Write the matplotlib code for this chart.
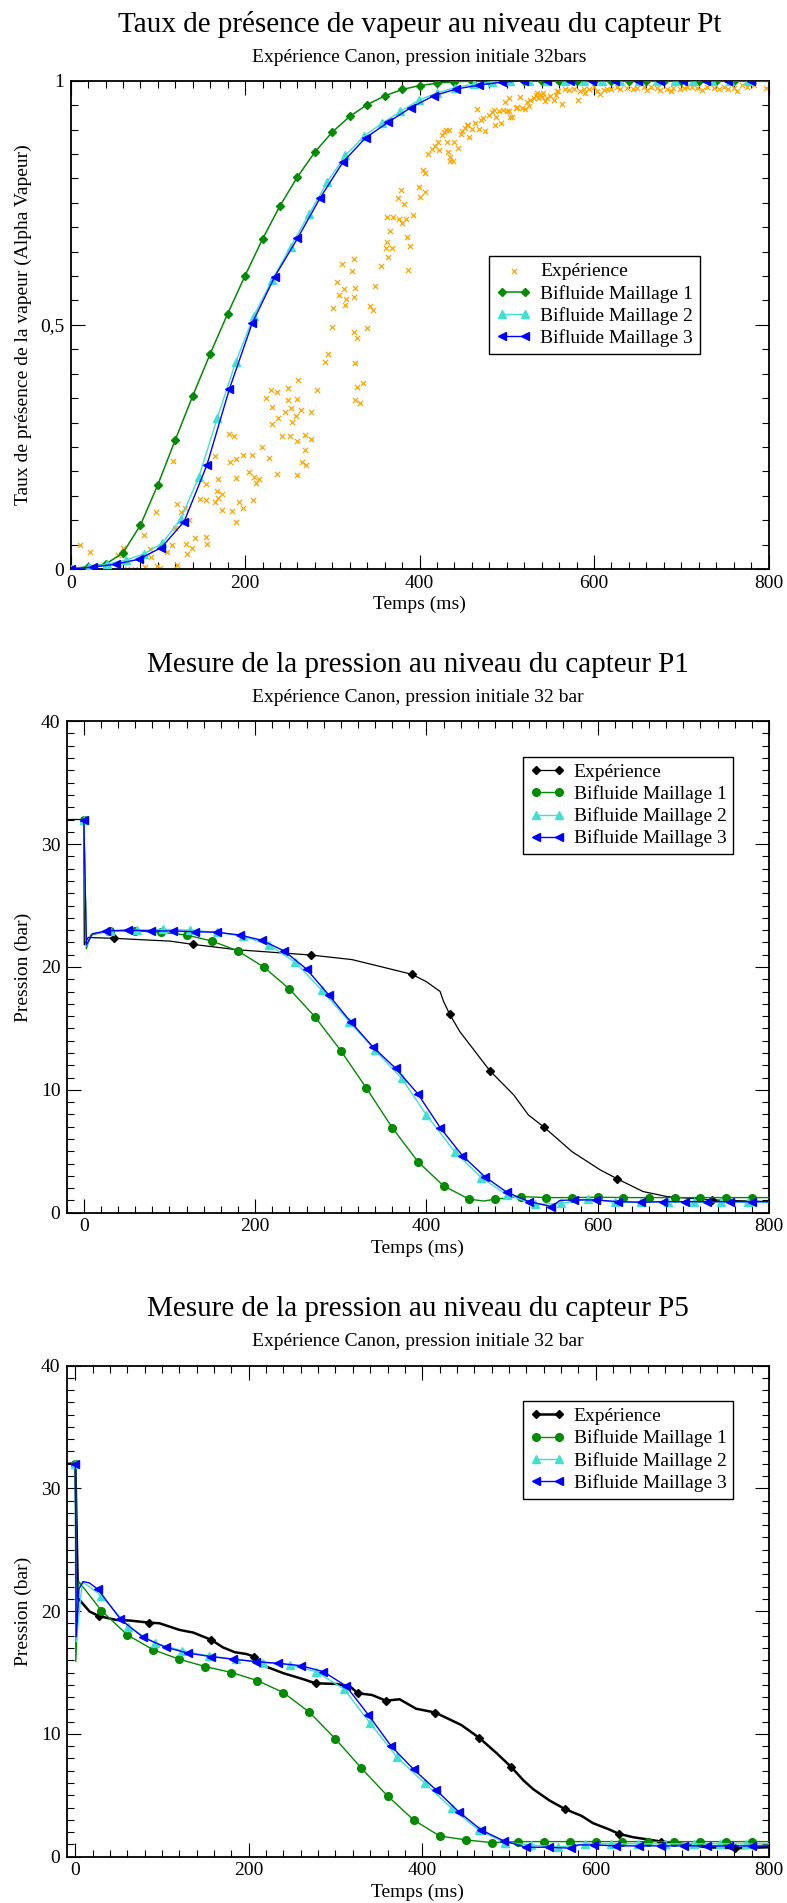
import matplotlib
matplotlib.use("Agg")
import matplotlib.pyplot as plt
from matplotlib.ticker import MultipleLocator, FuncFormatter

plt.rcParams["font.family"] = ["Liberation Serif", "DejaVu Serif"]
plt.rcParams["font.size"] = 14

GREEN = "#008b00"
CYAN = "#40e0d0"
BLUE = "#0000ff"
ORANGE = "#ffa500"
BLACK = "#000000"

LABELS = ["Expérience", "Bifluide Maillage 1", "Bifluide Maillage 2", "Bifluide Maillage 3"]

# ---------------- panel 1 : taux de vapeur (capteur Pt) ----------------
exp_alpha = [
    (11, 0.05), (22, 0.035), (41, 0.0), (54, 0.028), (60, 0.042), (64, 0.0), (74, 0.0),
    (84, 0.069), (85, 0.004), (91, 0.04), (92, 0.025), (98, 0.117), (99, 0.006), (102, 0.002),
    (110, 0.034), (116, 0.049), (117, 0.221), (120, 0.083), (122, 0.134), (122, 0.008),
    (127, 0.117), (131, 0.125), (132, 0.052), (133, 0.03), (136, 0.101), (139, 0.042),
    (142, 0.064), (148, 0.144), (155, 0.175), (155, 0.066), (156, 0.051), (155, 0.141),
    (166, 0.231), (166, 0.137), (168, 0.159), (169, 0.185), (169, 0.146), (174, 0.154),
    (173, 0.12), (182, 0.277), (183, 0.219), (185, 0.118), (187, 0.272), (189, 0.225),
    (190, 0.187), (190, 0.097), (193, 0.137), (197, 0.124), (197, 0.234), (204, 0.199),
    (208, 0.234), (209, 0.141), (210, 0.189), (213, 0.177), (216, 0.185), (219, 0.249),
    (224, 0.351), (227, 0.228), (230, 0.366), (231, 0.331), (231, 0.296), (236, 0.194),
    (237, 0.362), (238, 0.31), (242, 0.273), (246, 0.322), (249, 0.346), (249, 0.37),
    (251, 0.272), (252, 0.329), (254, 0.301), (258, 0.313), (259, 0.262), (259, 0.348),
    (260, 0.193), (261, 0.388), (264, 0.326), (265, 0.219), (269, 0.243), (269, 0.274),
    (270, 0.213), (276, 0.266), (276, 0.322), (282, 0.367), (292, 0.424), (295, 0.441),
    (299, 0.495), (301, 0.534), (305, 0.587), (308, 0.562), (311, 0.624), (313, 0.573),
    (315, 0.54), (316, 0.553), (322, 0.611), (325, 0.635), (325, 0.557), (326, 0.575),
    (325, 0.486), (328, 0.474), (326, 0.422), (328, 0.372), (326, 0.346), (332, 0.339),
    (335, 0.381), (340, 0.494), (343, 0.538), (347, 0.53), (349, 0.579), (356, 0.62),
    (361, 0.657), (363, 0.67), (364, 0.639), (366, 0.692), (368, 0.657), (363, 0.721),
    (370, 0.72), (376, 0.717), (379, 0.776), (375, 0.759), (382, 0.748), (380, 0.708),
    (384, 0.717), (385, 0.679), (387, 0.612), (389, 0.661), (393, 0.725), (399, 0.783),
    (400, 0.761), (406, 0.773), (404, 0.818), (406, 0.81), (410, 0.85), (414, 0.86),
    (418, 0.867), (421, 0.875), (422, 0.858), (426, 0.889), (428, 0.894), (430, 0.899),
    (434, 0.899), (431, 0.875), (433, 0.853), (435, 0.844), (438, 0.835), (435, 0.835),
    (439, 0.875), (444, 0.863), (447, 0.89), (449, 0.898), (452, 0.904), (454, 0.909),
    (456, 0.909), (457, 0.884), (460, 0.902), (464, 0.913), (466, 0.943), (468, 0.901),
    (470, 0.919), (473, 0.923), (475, 0.896), (479, 0.93), (483, 0.935), (485, 0.94),
    (487, 0.909), (488, 0.926), (491, 0.938), (493, 0.913), (496, 0.94), (498, 0.957),
    (500, 0.937), (502, 0.937), (503, 0.965), (504, 0.926), (506, 0.926), (510, 0.945),
    (512, 0.947), (515, 0.967), (517, 0.945), (521, 0.943), (523, 0.957), (525, 0.949),
    (527, 0.96), (531, 0.965), (533, 0.971), (535, 0.974), (536, 0.964), (538, 0.972),
    (540, 0.967), (542, 0.974), (544, 0.958), (546, 0.964), (550, 0.969), (554, 0.96),
    (556, 0.971), (558, 0.978), (559, 0.979), (563, 0.952), (567, 0.984), (571, 0.981),
    (577, 0.983), (582, 0.96), (584, 0.979), (588, 0.983), (590, 0.974), (594, 0.984),
    (600, 0.988), (603, 0.978), (607, 0.972), (611, 0.981), (615, 0.983), (619, 0.984),
    (626, 0.988), (630, 0.983), (638, 0.986), (645, 0.983), (649, 0.986), (657, 0.988),
    (661, 0.981), (665, 0.988), (672, 0.986), (676, 0.981), (684, 0.984), (688, 0.979),
    (691, 0.986), (699, 0.984), (703, 0.986), (707, 0.988), (712, 0.988), (718, 0.986),
    (724, 0.981), (730, 0.988), (737, 0.986), (743, 0.983), (749, 0.988), (754, 0.983),
    (760, 0.986), (764, 0.979), (770, 0.991), (775, 0.988), (783, 0.991), (797, 0.986),
]

a1_t = [0, 20, 40, 60, 80, 100, 120, 140, 160, 180, 200, 220, 240, 260, 280, 300, 320, 340,
        360, 380, 400, 420, 440, 460, 480, 500, 520, 540, 560, 580, 600, 620, 640, 660, 680,
        700, 720, 740, 760, 780, 800]
a1_v = [0.0, 0.005, 0.01, 0.033, 0.09, 0.173, 0.265, 0.355, 0.441, 0.523, 0.601, 0.676,
        0.744, 0.803, 0.854, 0.895, 0.927, 0.951, 0.969, 0.982, 0.99, 0.995, 0.998, 0.999,
        1, 1, 1, 1, 1, 1, 1, 1, 1, 1, 1, 1, 1, 1, 1, 1, 1]
a2_t = [0, 21, 42, 63, 84, 105, 126, 147, 168, 189, 210, 231, 252, 273, 294, 315, 336, 357,
        378, 399, 420, 441, 462, 483, 504, 525, 546, 567, 588, 609, 630, 651, 672, 693, 714,
        735, 756, 777, 800]
a2_v = [0.0, 0.004, 0.01, 0.018, 0.031, 0.053, 0.102, 0.189, 0.309, 0.423, 0.519, 0.592,
        0.66, 0.726, 0.792, 0.847, 0.886, 0.913, 0.937, 0.96, 0.975, 0.986, 0.993, 0.997,
        1, 1, 1, 1, 1, 1, 1, 1, 1, 1, 1, 1, 1, 1, 1]
a3_t = [0, 26, 52, 78, 104, 130, 156, 182, 208, 234, 260, 286, 312, 338, 364, 390, 416, 442,
        468, 494, 520, 546, 572, 598, 624, 650, 676, 702, 728, 754, 780, 800]
a3_v = [0.0, 0.004, 0.01, 0.02, 0.044, 0.097, 0.212, 0.369, 0.503, 0.599, 0.677, 0.76,
        0.833, 0.883, 0.915, 0.945, 0.969, 0.983, 0.991, 0.997, 1, 1, 1, 1, 1, 1, 1, 1, 1,
        1, 1, 1]

# ---------------- panel 2 : pression capteur P1 ----------------
p1_exp_t = [-20, 0, 0.5, 5, 35, 101, 127, 179, 265, 313, 350, 383, 400, 416, 420, 427, 439,
            474, 502, 519, 537, 570, 603, 623, 653, 681, 733, 800]
p1_exp_p = [32, 32, 21.8, 22.4, 22.33, 22.1, 21.84, 21.4, 20.97, 20.6, 19.97, 19.4, 18.8,
            18.0, 17.2, 16.17, 14.74, 11.56, 9.58, 7.96, 6.98, 4.97, 3.48, 2.75, 1.72, 1.31,
            1.04, 0.9]
p1_exp_marks = [4, 6, 8, 11, 15, 17, 20, 23, 26]

p1_m1_t = [0, 3, 8, 30, 60, 90, 120, 150, 180, 210, 240, 270, 300, 330, 360, 390, 420, 450,
           467, 480, 510, 540, 570, 600, 630, 660, 690, 720, 750, 780, 800]
p1_m1_p = [32, 21.5, 22.6, 22.93, 22.93, 22.82, 22.6, 22.1, 21.3, 20.0, 18.21, 15.93, 13.19,
           10.13, 6.93, 4.16, 2.18, 1.1, 0.95, 1.1, 1.31, 1.23, 1.23, 1.26, 1.23, 1.23, 1.23,
           1.23, 1.23, 1.23, 1.23]
p1_m1_skip = [1, 2, 18, 30]

p1_m2_t = [0, 3, 10, 31, 62, 93, 124, 155, 186, 216, 247, 278, 310, 340, 371, 400, 433, 464,
           494, 527, 557, 589, 620, 651, 682, 713, 744, 775, 800]
p1_m2_p = [32, 21.7, 22.7, 22.93, 23.0, 23.06, 23.0, 22.82, 22.5, 21.8, 20.38, 18.1, 15.55,
           13.24, 10.94, 7.96, 4.97, 2.86, 1.45, 0.69, 0.75, 1.12, 0.85, 0.87, 0.87, 0.87,
           0.87, 0.87, 0.87]
p1_m2_skip = [1, 2, 28]

p1_m3_t = [0, 3, 10, 26, 52, 78, 104, 130, 156, 182, 208, 234, 260, 286, 312, 338, 364, 390,
           416, 442, 468, 494, 520, 546, 556, 572, 598, 624, 650, 676, 702, 728, 754, 780, 800]
p1_m3_p = [32, 21.8, 22.7, 22.93, 23.0, 22.93, 22.93, 22.87, 22.82, 22.6, 22.17, 21.3, 19.83,
           17.72, 15.5, 13.46, 11.75, 9.67, 6.93, 4.65, 2.94, 1.66, 0.9, 0.5, 1.0, 1.04, 1.04,
           0.9, 0.85, 0.9, 0.9, 0.9, 0.9, 0.9, 0.9]
p1_m3_skip = [1, 2, 24, 34]

# ---------------- panel 3 : pression capteur P5 ----------------
p5_exp_t = [-10, 0, 3, 16.5, 27, 47, 63, 85, 97, 120, 136, 157, 170, 184, 197, 206, 220, 240,
            263, 277, 301, 317, 326, 342, 358, 374, 393, 415, 445, 466, 486, 503, 517, 528,
            547, 565, 584, 597, 615, 627, 643, 676, 701, 728, 761, 800]
p5_exp_p = [32, 32, 21.05, 19.96, 19.6, 19.28, 19.23, 19.06, 19.01, 18.47, 18.25, 17.65,
            17.05, 16.65, 16.51, 16.3, 15.48, 14.94, 14.45, 14.12, 14.07, 13.85, 13.31, 13.17,
            12.71, 12.82, 12.05, 11.74, 10.73, 9.67, 8.42, 7.28, 6.2, 5.5, 4.57, 3.87, 3.32,
            2.73, 2.24, 1.86, 1.59, 1.23, 1.04, 0.77, 0.69, 0.77]
p5_exp_marks = [4, 7, 11, 15, 19, 22, 24, 27, 29, 31, 35, 39, 41, 44]

p5_m1_t = [0, 0.5, 4, 30, 60, 90, 120, 150, 180, 210, 240, 270, 300, 330, 360, 390, 420, 450,
           480, 510, 540, 570, 600, 630, 660, 690, 720, 750, 780, 800]
p5_m1_p = [32, 15.9, 22.4, 20.04, 18.06, 16.84, 16.08, 15.48, 15.0, 14.34, 13.36, 11.76,
           9.59, 7.2, 4.95, 3.0, 1.69, 1.37, 1.15, 1.23, 1.23, 1.23, 1.23, 1.23, 1.23, 1.23,
           1.23, 1.23, 1.23, 1.23]
p5_m1_skip = [1, 2, 29]

p5_m2_t = [0, 1, 8, 30, 61, 92, 123, 154, 185, 216, 247, 278, 310, 340, 371, 403, 434, 465,
           495, 526, 557, 588, 618, 649, 680, 713, 743, 774, 800]
p5_m2_p = [32, 17.5, 22.4, 21.26, 18.74, 17.38, 16.78, 16.35, 16.08, 15.81, 15.62, 15.07,
           13.64, 10.87, 8.1, 5.98, 3.95, 2.18, 1.15, 0.96, 0.77, 1.05, 1.05, 1.05, 1.05,
           1.05, 1.05, 1.05, 1.05]
p5_m2_skip = [1, 2, 28]

p5_m3_t = [0, 1, 4, 9, 16, 26, 52, 78, 104, 130, 156, 182, 208, 234, 260, 286, 312, 338, 364,
           390, 416, 442, 468, 494, 520, 546, 572, 580, 598, 624, 650, 676, 702, 728, 754,
           780, 800]
p5_m3_p = [32, 17.9, 21.8, 22.4, 22.3, 21.78, 19.34, 17.87, 17.06, 16.57, 16.3, 16.08,
           15.89, 15.75, 15.56, 15.07, 13.91, 11.55, 9.02, 7.12, 5.44, 3.67, 2.18, 1.29, 0.77,
           0.77, 0.69, 0.96, 0.96, 0.88, 0.88, 0.88, 0.88, 0.88, 0.88, 0.88, 0.88]
p5_m3_skip = [1, 2, 3, 4, 27, 36]

TITLES = [
    ("Taux de présence de vapeur au niveau du capteur Pt",
     "Expérience Canon, pression initiale 32bars"),
    ("Mesure de la pression au niveau du capteur P1",
     "Expérience Canon, pression initiale 32 bar"),
    ("Mesure de la pression au niveau du capteur P5",
     "Expérience Canon, pression initiale 32 bar"),
]

FIG_W, FIG_H = 787, 1903
fig = plt.figure(figsize=(FIG_W / 100, FIG_H / 100), dpi=100)


def add_panel(left, top, right, bottom):
    return fig.add_axes([left / FIG_W, 1 - bottom / FIG_H,
                         (right - left) / FIG_W, (bottom - top) / FIG_H])


def keep(n, skip):
    return [i for i in range(n) if i not in skip]


def decorate(ax, box, titles, ylabel, ymajor, yminor):
    left, top, right, bottom = box
    cx = (left + right) / 2 / FIG_W
    fig.text(cx, 1 - (top - 49) / FIG_H, titles[0], ha="center", va="baseline", fontsize=21)
    fig.text(cx, 1 - (top - 19) / FIG_H, titles[1], ha="center", va="baseline", fontsize=14)

    ax.xaxis.set_major_locator(MultipleLocator(200))
    ax.xaxis.set_minor_locator(MultipleLocator(20))
    ax.yaxis.set_major_locator(MultipleLocator(ymajor))
    ax.yaxis.set_minor_locator(MultipleLocator(yminor))
    ax.tick_params(which="both", direction="in", top=True, right=True, width=0.8)
    ax.tick_params(which="major", length=10, labelsize=14)
    ax.tick_params(which="minor", length=5)
    ax.tick_params(axis="x", pad=4)
    ax.tick_params(axis="y", pad=4.5)
    for s in ax.spines.values():
        s.set_linewidth(1.3)

    ax.set_xlabel("Temps (ms)", fontsize=14, va="baseline")
    ax.xaxis.set_label_coords(0.5, -40 / (bottom - top))
    ax.set_ylabel(ylabel, fontsize=14)
    ax.yaxis.set_label_coords((32 - left) / (right - left), 0.5)


def add_legend(ax, x0, ytop):
    leg = ax.legend(loc="upper left", bbox_to_anchor=(x0, ytop), borderaxespad=0,
                    fancybox=False, edgecolor="black", framealpha=1, fontsize=14,
                    numpoints=2, scatterpoints=1, handlelength=1.8, handletextpad=0.45,
                    labelspacing=0.22, borderpad=0.35)
    leg.get_frame().set_linewidth(1.0)


# ---- panel 1
box1 = (70.7, 80.7, 768.5, 569)
ax1 = add_panel(*box1)
ax1.scatter([p[0] for p in exp_alpha], [p[1] for p in exp_alpha], marker="x", s=14,
            color=ORANGE, linewidths=0.9, label=LABELS[0], zorder=2)
ax1.plot(a1_t, a1_v, color=GREEN, lw=1.1, marker="D", ms=4.5, markevery=keep(len(a1_t), [len(a1_t) - 1]),
         label=LABELS[1], zorder=3)
ax1.plot(a2_t, a2_v, color=CYAN, lw=1.0, marker="^", ms=5.5, markevery=keep(len(a2_t), [len(a2_t) - 1]),
         label=LABELS[2], zorder=4)
ax1.plot(a3_t, a3_v, color=BLUE, lw=1.0, marker="<", ms=5.5, markevery=keep(len(a3_t), [len(a3_t) - 1]),
         label=LABELS[3], zorder=5)
ax1.set_xlim(0, 800)
ax1.set_ylim(0, 1)
decorate(ax1, box1, TITLES[0], "Taux de présence de la vapeur (Alpha Vapeur)", 0.5, 0.05)
ax1.yaxis.set_major_formatter(FuncFormatter(lambda v, pos: f"{v:g}".replace(".", ",")))
add_legend(ax1, 0.600, 0.641)


def pressure_panel(box, titles, series, xmin):
    ax = add_panel(*box)
    (et, ep, emarks, elw), sims = series
    ax.plot(et, ep, color=BLACK, lw=elw, marker="D", ms=4, markevery=emarks,
            label=LABELS[0], zorder=2)
    styles = [(GREEN, "o", 5.5), (CYAN, "^", 5.5), (BLUE, "<", 5.5)]
    for (t, p, skip), (col, mk, ms), lab, z in zip(sims, styles, LABELS[1:], (3, 4, 5)):
        ax.plot(t, p, color=col, lw=1.0, marker=mk, ms=ms, markevery=keep(len(t), skip),
                label=lab, zorder=z)
    ax.set_xlim(xmin, 800)
    ax.set_ylim(0, 40)
    decorate(ax, box, titles, "Pression (bar)", 10, 1)
    add_legend(ax, 0.650, 0.928)
    return ax


pressure_panel((66.7, 721.2, 769, 1212.7), TITLES[1],
               ((p1_exp_t, p1_exp_p, p1_exp_marks, 0.9),
                [(p1_m1_t, p1_m1_p, p1_m1_skip),
                 (p1_m2_t, p1_m2_p, p1_m2_skip),
                 (p1_m3_t, p1_m3_p, p1_m3_skip)]), -20)

pressure_panel((66.7, 1365.5, 769, 1856.7), TITLES[2],
               ((p5_exp_t, p5_exp_p, p5_exp_marks, 1.8),
                [(p5_m1_t, p5_m1_p, p5_m1_skip),
                 (p5_m2_t, p5_m2_p, p5_m2_skip),
                 (p5_m3_t, p5_m3_p, p5_m3_skip)]), -10)

fig.savefig("out.png", dpi=100)
